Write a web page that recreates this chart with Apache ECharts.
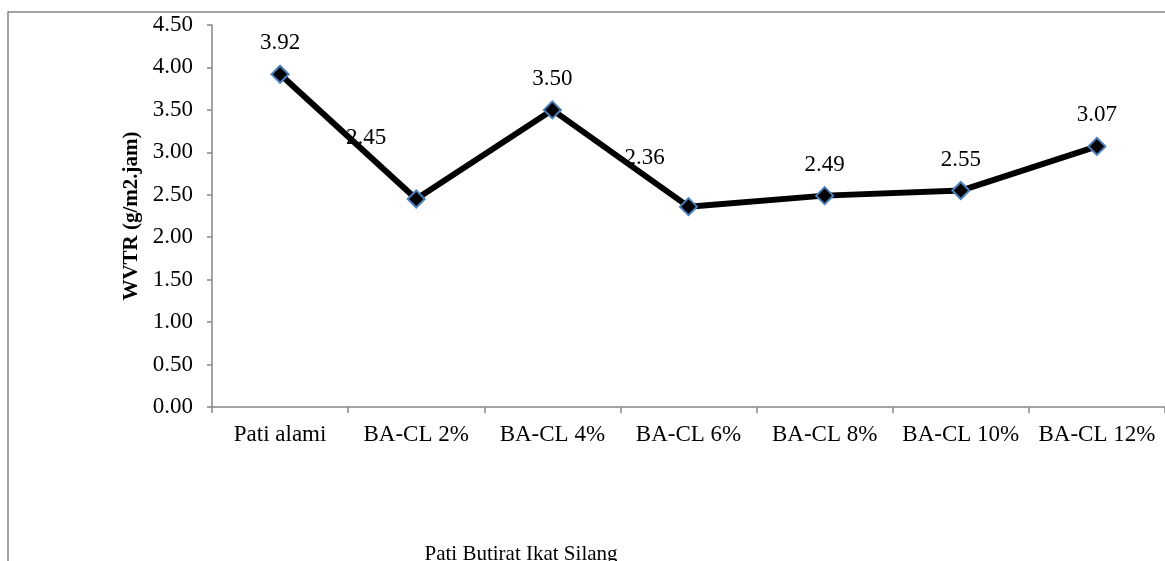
<!DOCTYPE html>
<html>
<head>
<meta charset="utf-8">
<script src="https://cdn.jsdelivr.net/npm/echarts@6/dist/echarts.min.js"></script>
<style>
  html, body { margin: 0; padding: 0; background: #ffffff; }
  #chart { width: 1165px; height: 561px; }
</style>
</head>
<body>
<div id="chart"></div>
<script>
// WVTR of native starch and cross-linked butyrate starch
const categories = ['Pati alami', 'BA-CL 2%', 'BA-CL 4%', 'BA-CL 6%', 'BA-CL 8%', 'BA-CL 10%', 'BA-CL 12%'];
const wvtr = [3.92, 2.45, 3.50, 2.36, 2.49, 2.55, 3.07];
const yTickLabels = ['0.00', '0.50', '1.00', '1.50', '2.00', '2.50', '3.00', '3.50', '4.00', '4.50'];

// label placement per point (pixels relative to the default "above" spot)
const labelShift = [[0, 0], [-50, -30], [0, 0], [-44, -18], [0, 0], [0, 0], [0, 0]];

const serif = '"Liberation Serif", "Times New Roman", serif';
const axisGrey = '#868686';

const chart = echarts.init(document.getElementById('chart'));

chart.setOption({
  animation: false,
  backgroundColor: '#ffffff',
  graphic: [
    {
      type: 'rect',
      shape: { x: 8, y: 12, width: 1200, height: 600 },
      style: { fill: 'none', stroke: axisGrey, lineWidth: 1.5 },
      silent: true
    },
    {
      type: 'text',
      x: 521,
      y: 554,
      style: {
        text: 'Pati Butirat Ikat Silang',
        font: '21px ' + serif,
        fill: '#000000',
        textAlign: 'center',
        textVerticalAlign: 'middle'
      }
    }
  ],
  grid: { left: 212, top: 25, width: 959, height: 382, containLabel: false },
  xAxis: {
    type: 'category',
    data: categories,
    boundaryGap: true,
    axisLine: { lineStyle: { color: axisGrey, width: 1.5 } },
    axisTick: { show: true, alignWithLabel: false, length: 6, inside: false, lineStyle: { color: axisGrey, width: 1.5 } },
    axisLabel: { color: '#000000', fontFamily: serif, fontSize: 23, margin: 16, interval: 0 },
    splitLine: { show: false }
  },
  yAxis: {
    type: 'value',
    min: 0,
    max: 4.5,
    interval: 0.5,
    name: 'WVTR (g/m2.jam)',
    nameLocation: 'middle',
    nameRotate: 90,
    nameGap: 69,
    nameTextStyle: { color: '#000000', fontFamily: serif, fontSize: 21, fontWeight: 'bold' },
    axisLine: { show: true, lineStyle: { color: axisGrey, width: 1.5 } },
    axisTick: { show: true, length: 5, lineStyle: { color: axisGrey, width: 1.5 } },
    axisLabel: {
      color: '#000000',
      fontFamily: serif,
      fontSize: 23,
      margin: 19,
      formatter: function (v) { return yTickLabels[Math.round(v / 0.5)]; }
    },
    splitLine: { show: false }
  },
  series: [
    {
      type: 'line',
      data: wvtr.map(function (v, i) {
        return {
          value: v,
          label: { offset: labelShift[i] }
        };
      }),
      lineStyle: { color: '#000000', width: 6 },
      symbol: 'diamond',
      symbolSize: 17,
      itemStyle: { color: '#000000', borderColor: '#4a7ebb', borderWidth: 2 },
      label: {
        show: true,
        position: 'top',
        distance: 10,
        color: '#000000',
        fontFamily: serif,
        fontSize: 23,
        formatter: function (p) { return p.value.toFixed(2); }
      },
      z: 3
    }
  ]
});
</script>
</body>
</html>
